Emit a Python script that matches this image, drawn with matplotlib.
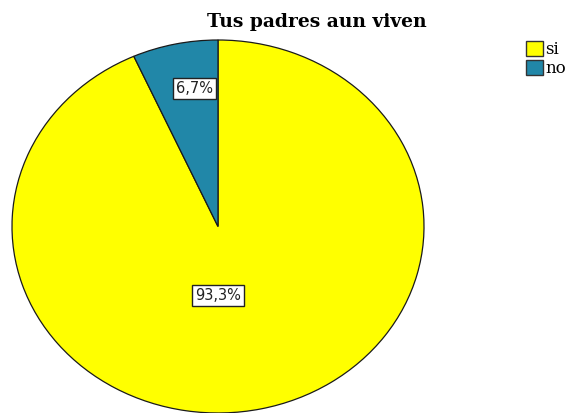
import matplotlib.pyplot as plt
import numpy as np

categories = ["si", "no"]
percentages = [93.3, 6.7]
colors = ["#FFFF00", "#2187A8"]
title = "Tus padres aun viven"

W, H = 577, 413
fig = plt.figure(figsize=(W / 100, H / 100), dpi=100)

# pie occupies an ellipse (SPSS style, not equal aspect)
ax = fig.add_axes([12 / W, 0 / H, 412 / W, 373 / H])
wedges, texts, autotexts = ax.pie(
    percentages,
    colors=colors,
    startangle=90,
    counterclock=False,
    radius=1,
    autopct=lambda p: f"{p:.1f}%".replace(".", ","),
    pctdistance=0.76,
    wedgeprops=dict(edgecolor="#1a1a1a", linewidth=0.9, clip_on=False),
    textprops=dict(fontsize=10.5, color="#222222", family="DejaVu Sans"),
)
ax.set_aspect("auto")
ax.set_xlim(-1, 1)
ax.set_ylim(-1, 1)
ax.axis("off")

# SPSS puts the big slice label closer to the centre, straight down
autotexts[0].set_position((0, -0.37))
autotexts[1].set_position((-0.115, 0.74))
for t in autotexts:
    t.set_bbox(dict(facecolor="white", edgecolor="#222222", linewidth=1.0, pad=2.3))

fig.text(317 / W, 1 - 22 / H, title, ha="center", va="center",
         fontsize=13.5, fontweight="bold", family="DejaVu Serif")

handles = [plt.Rectangle((0, 0), 1, 1, facecolor=c, edgecolor="#333333", linewidth=1.0)
           for c in colors]
fig.legend(handles, categories, loc="upper left", bbox_to_anchor=(526 / W, 1 - 41 / H),
           frameon=False, handlelength=1.0, handleheight=1.0, handletextpad=0.15,
           labelspacing=0.1, borderpad=0, borderaxespad=0,
           prop=dict(family="DejaVu Serif", size=12))

fig.savefig("out.png", dpi=100)
